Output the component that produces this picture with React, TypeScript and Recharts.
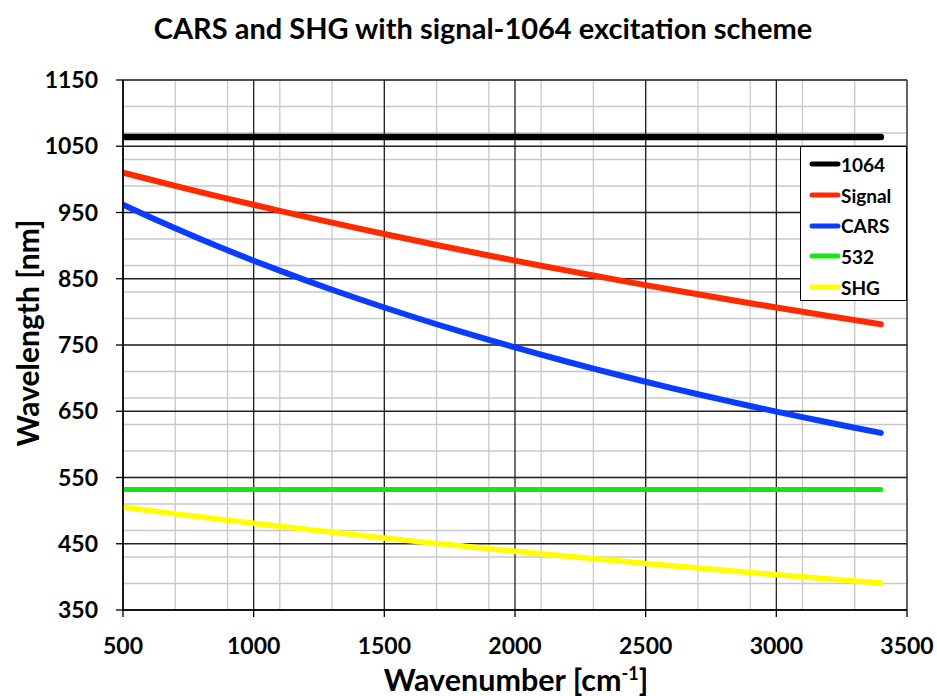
import React from 'react';
import { LineChart, Line, XAxis, YAxis, CartesianGrid } from 'recharts';

const wavenumbers = [500, 600, 700, 800, 900, 1000, 1100, 1200, 1300, 1400, 1500, 1600, 1700, 1800, 1900, 2000, 2100, 2200, 2300, 2400, 2500, 2600, 2700, 2800, 2900, 3000, 3100, 3200, 3300, 3400];
const laser1064 = [1064, 1064, 1064, 1064, 1064, 1064, 1064, 1064, 1064, 1064, 1064, 1064, 1064, 1064, 1064, 1064, 1064, 1064, 1064, 1064, 1064, 1064, 1064, 1064, 1064, 1064, 1064, 1064, 1064, 1064];
const signal = [1010.3, 1000.2, 990.2, 980.5, 971.0, 961.7, 952.5, 943.5, 934.7, 926.1, 917.6, 909.2, 901.0, 893.0, 885.1, 877.3, 869.7, 862.2, 854.8, 847.6, 840.4, 833.4, 826.6, 819.8, 813.1, 806.6, 800.1, 793.8, 787.5, 781.3];
const cars = [961.7, 943.5, 926.1, 909.2, 893.0, 877.3, 862.2, 847.6, 833.4, 819.8, 806.6, 793.8, 781.3, 769.3, 757.7, 746.4, 735.4, 724.7, 714.4, 704.3, 694.5, 685.0, 675.7, 666.7, 658.0, 649.4, 641.1, 633.0, 625.1, 617.3];
const green532 = [532, 532, 532, 532, 532, 532, 532, 532, 532, 532, 532, 532, 532, 532, 532, 532, 532, 532, 532, 532, 532, 532, 532, 532, 532, 532, 532, 532, 532, 532];
const shg = [505.1, 500.1, 495.1, 490.3, 485.5, 480.8, 476.3, 471.8, 467.4, 463.0, 458.8, 454.6, 450.5, 446.5, 442.5, 438.7, 434.8, 431.1, 427.4, 423.8, 420.2, 416.7, 413.3, 409.9, 406.6, 403.3, 400.1, 396.9, 393.7, 390.7];

const xTicks = [500, 1000, 1500, 2000, 2500, 3000, 3500];
const yTicks = [350, 450, 550, 650, 750, 850, 950, 1050, 1150];

const seriesInfo = [
  { key: 'l1064', name: '1064', color: '#000000', width: 6.5 },
  { key: 'signal', name: 'Signal', color: '#ff2a00', width: 6 },
  { key: 'cars', name: 'CARS', color: '#0a3cff', width: 6 },
  { key: 'g532', name: '532', color: '#14e60f', width: 5 },
  { key: 'shg', name: 'SHG', color: '#ffff00', width: 5.5 },
];

const data = wavenumbers.map((w, i) => ({
  w,
  l1064: laser1064[i],
  signal: signal[i],
  cars: cars[i],
  g532: green532[i],
  shg: shg[i],
}));

const minorX: number[] = [];
for (let v = 500; v <= 3500; v += 100) minorX.push(v);
const minorY: number[] = [];
for (let v = 350; v <= 1150; v += 20) minorY.push(v);

const FONT = 'Lato, "Open Sans", sans-serif';

const LegendBox = () => (
  <div
    style={{
      position: 'absolute',
      left: 800,
      top: 146,
      border: '1px solid #000',
      background: '#fff',
      width: 107,
      height: 155,
      boxSizing: 'border-box',
      padding: '2px 0 0 8px',
      fontFamily: FONT,
      fontWeight: 700,
      fontSize: 19,
      zIndex: 2,
    }}
  >
    {seriesInfo.map((s) => (
      <div key={s.key} style={{ display: 'flex', alignItems: 'center', height: 30.7 }}>
        <svg width={32} height={10} style={{ marginRight: 0 }}>
          <line x1={3} y1={5} x2={29} y2={5} stroke={s.color} strokeWidth={5} strokeLinecap="round" />
        </svg>
        <span style={{ color: '#000' }}>{s.name}</span>
      </div>
    ))}
  </div>
);

export default function App() {
  return (
    <div style={{ position: 'absolute', left: 0, top: 0, width: 937, height: 696, background: '#fff', fontFamily: FONT }}>
      <div
        style={{
          position: 'absolute',
          left: 0,
          width: 966,
          top: 10,
          textAlign: 'center',
          fontSize: 29,
          fontWeight: 700,
          color: '#000',
          whiteSpace: 'nowrap',
          zIndex: 2,
        }}
      >
        CARS and SHG with signal-1064 excitation scheme
      </div>
      <div
        style={{
          position: 'absolute',
          left: 0,
          width: 1032,
          top: 661,
          textAlign: 'center',
          fontSize: 30.5,
          fontWeight: 700,
          color: '#000',
          whiteSpace: 'nowrap',
          lineHeight: '36px',
          zIndex: 2,
        }}
      >
        Wavenumber [cm<sup style={{ fontSize: 18, lineHeight: 0 }}>-1</sup>]
      </div>
      <div
        style={{
          position: 'absolute',
          left: 27,
          top: 333,
          transform: 'translate(-50%, -50%) rotate(-90deg)',
          fontSize: 30,
          fontWeight: 700,
          color: '#000',
          whiteSpace: 'nowrap',
          zIndex: 2,
        }}
      >
        Wavelength [nm]
      </div>
      <div style={{ position: 'absolute', left: 0, top: 0 }}>
        <LineChart
          width={937}
          height={696}
          data={data}
          margin={{ top: 80, right: 30, bottom: 0, left: 0 }}
        >
          <CartesianGrid stroke="#c8c8c8" strokeWidth={1.3} verticalValues={minorX} horizontalValues={minorY} />
          <CartesianGrid stroke="#222222" strokeWidth={1.3} verticalValues={xTicks} horizontalValues={yTicks} />
          <XAxis
            dataKey="w"
            type="number"
            domain={[500, 3500]}
            ticks={xTicks}
            height={86}
            axisLine={{ stroke: '#000', strokeWidth: 1.5 }}
            tickLine={{ stroke: '#000', strokeWidth: 1.3 }}
            tickSize={7}
            tickMargin={21}
            tick={{ fill: '#000', fontSize: 23, fontWeight: 700, fontFamily: FONT }}
            allowDataOverflow
          />
          <YAxis
            type="number"
            domain={[350, 1150]}
            ticks={yTicks}
            width={123}
            axisLine={{ stroke: '#000', strokeWidth: 1.5 }}
            tickLine={{ stroke: '#000', strokeWidth: 1.3 }}
            tickSize={7}
            tickMargin={18}
            tick={{ fill: '#000', fontSize: 23, fontWeight: 700, fontFamily: FONT }}
            allowDataOverflow
          />
          {seriesInfo.map((s) => (
            <Line
              key={s.key}
              dataKey={s.key}
              name={s.name}
              stroke={s.color}
              strokeWidth={s.width}
              strokeLinecap="round"
              dot={false}
              activeDot={false}
              type="linear"
              isAnimationActive={false}
            />
          ))}
        </LineChart>
      </div>
      <LegendBox />
    </div>
  );
}
